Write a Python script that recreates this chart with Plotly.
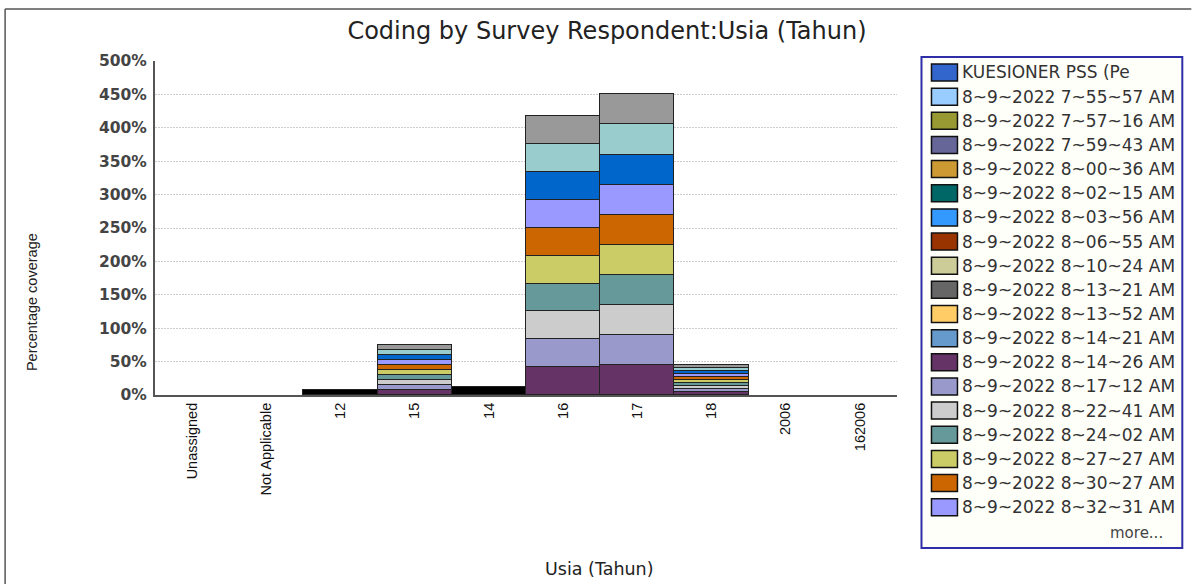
import plotly.graph_objects as go

# ---------------- data ----------------
categories = ["Unassigned", "Not Applicable", "12", "15", "14", "16", "17", "18", "2006", "162006"]

# legend entries shown in the reference (first 19, then "more...")
legend_names = [
    "KUESIONER PSS (Pe",
    "8~9~2022 7~55~57 AM", "8~9~2022 7~57~16 AM", "8~9~2022 7~59~43 AM",
    "8~9~2022 8~00~36 AM", "8~9~2022 8~02~15 AM", "8~9~2022 8~03~56 AM",
    "8~9~2022 8~06~55 AM", "8~9~2022 8~10~24 AM", "8~9~2022 8~13~21 AM",
    "8~9~2022 8~13~52 AM", "8~9~2022 8~14~21 AM", "8~9~2022 8~14~26 AM",
    "8~9~2022 8~17~12 AM", "8~9~2022 8~22~41 AM", "8~9~2022 8~24~02 AM",
    "8~9~2022 8~27~27 AM", "8~9~2022 8~30~27 AM", "8~9~2022 8~32~31 AM",
]
legend_colors = [
    "#3366CC", "#99CCFF", "#999933", "#666699", "#CC9933", "#006666",
    "#3399FF", "#993300", "#CCCC99", "#666666", "#FFCC66", "#6699CC",
    "#663366", "#9999CC", "#CCCCCC", "#669999", "#CCCC66", "#CC6600",
    "#9999FF",
]

# stacked series (bottom -> top), values in percent per category
s_08_14_26 = [None, None, None, 7.5, None, 41.7, 45, 4.5, None, None]
s_08_17_12 = [None, None, None, 7.5, None, 41.7, 45, 4.5, None, None]
s_08_22_41 = [None, None, None, 7.5, None, 41.7, 45, 4.5, None, None]
s_08_24_02 = [None, None, None, 7.5, None, 41.7, 45, 4.5, None, None]
s_08_27_27 = [None, None, None, 7.5, None, 41.7, 45, 4.5, None, None]
s_08_30_27 = [None, None, None, 7.5, None, 41.7, 45, 4.5, None, None]
s_08_32_31 = [None, None, None, 7.5, None, 41.7, 45, 4.5, None, None]
s_more_1 = [None, None, None, 7.5, None, 41.7, 45, 4.5, None, None]
s_more_2 = [None, None, None, 7.5, None, 41.7, 45, 4.5, None, None]
s_more_3 = [None, None, None, 7.5, None, 41.7, 45, 4.5, None, None]
s_more_4 = [None, None, 7.5, None, 11.5, None, None, None, None, None]

stack_series = [
    ("8~9~2022 8~14~26 AM", s_08_14_26, "#663366"),
    ("8~9~2022 8~17~12 AM", s_08_17_12, "#9999CC"),
    ("8~9~2022 8~22~41 AM", s_08_22_41, "#CCCCCC"),
    ("8~9~2022 8~24~02 AM", s_08_24_02, "#669999"),
    ("8~9~2022 8~27~27 AM", s_08_27_27, "#CCCC66"),
    ("8~9~2022 8~30~27 AM", s_08_30_27, "#CC6600"),
    ("8~9~2022 8~32~31 AM", s_08_32_31, "#9999FF"),
    ("more (1)", s_more_1, "#0066CC"),
    ("more (2)", s_more_2, "#99CCCC"),
    ("more (3)", s_more_3, "#999999"),
    ("more (4)", s_more_4, "#000000"),
]

y_ticks = list(range(0, 501, 50))

# ---------------- layout geometry ----------------
W, H = 1192, 584
L, R, T, B = 155, 897.5, 61, 395


def px(x):
    return (x - L) / (R - L)


def py(y):
    return (B - y) / (B - T)


fig = go.Figure()
for name, vals, col in stack_series:
    fig.add_trace(go.Bar(
        x=categories, y=vals, name=name,
        marker=dict(color=col, line=dict(color="#222222", width=1.5)),
        showlegend=False,
    ))

shapes = []
annotations = []

# outer frame lines (top and left)
shapes.append(dict(type="line", xref="paper", yref="paper", x0=px(5), x1=px(1192),
                   y0=py(9), y1=py(9), line=dict(color="#555555", width=1.5)))
shapes.append(dict(type="line", xref="paper", yref="paper", x0=px(5), x1=px(5),
                   y0=py(9), y1=py(584), line=dict(color="#555555", width=1.5)))

# custom legend box
shapes.append(dict(type="rect", xref="paper", yref="paper", x0=px(922), x1=px(1183),
                   y0=py(548), y1=py(57), line=dict(color="#2E2EA8", width=2),
                   fillcolor="#FFFFFA", layer="below"))
for i, (nm, col) in enumerate(zip(legend_names, legend_colors)):
    cy = 72.5 + i * 24.15
    shapes.append(dict(type="rect", xref="paper", yref="paper", x0=px(932), x1=px(958),
                       y0=py(cy + 8.5), y1=py(cy - 8.5), fillcolor=col,
                       line=dict(color="#111111", width=1.5)))
    annotations.append(dict(text=nm, xref="paper", yref="paper", x=px(961), y=py(cy),
                            xanchor="left", yanchor="middle", showarrow=False,
                            font=dict(family="DejaVu Sans", size=17, color="#333333")))
annotations.append(dict(text="more...", xref="paper", yref="paper", x=px(1166), y=py(533),
                        xanchor="right", yanchor="middle", showarrow=False,
                        font=dict(family="DejaVu Sans", size=15, color="#444444")))

# axis titles
annotations.append(dict(text="Percentage coverage", xref="paper", yref="paper",
                        x=px(32), y=py(302), textangle=-90, showarrow=False,
                        xanchor="center", yanchor="middle",
                        font=dict(family="Liberation Sans", size=14.5, color="#222222")))
annotations.append(dict(text="Usia (Tahun)", xref="paper", yref="paper",
                        x=px(600), y=py(569), showarrow=False,
                        xanchor="center", yanchor="middle",
                        font=dict(family="DejaVu Sans", size=17.5, color="#222222")))

fig.update_layout(
    width=W, height=H,
    margin=dict(l=L, r=W - R, t=T, b=H - B, pad=0),
    paper_bgcolor="white", plot_bgcolor="white",
    barmode="stack", bargap=0,
    showlegend=False,
    title=dict(text="Coding by Survey Respondent:Usia (Tahun)", x=607 / W, xref="container",
               xanchor="center", y=1 - 31 / H, yref="container", yanchor="middle",
               font=dict(family="DejaVu Sans", size=24, color="#222222")),
    xaxis=dict(type="category", categoryorder="array", categoryarray=categories,
               tickangle=-90, showline=True, linecolor="#555555", linewidth=2,
               ticks="", showgrid=False,
               tickfont=dict(family="Liberation Sans", size=14.5, color="#111111")),
    yaxis=dict(range=[0, 500], tickvals=y_ticks, ticktext=[f"{v}%" for v in y_ticks],
               showline=True, linecolor="#555555", linewidth=2, ticks="",
               ticklabelstandoff=3,
               showgrid=True, gridcolor="#CCCCCC", griddash="2px,1px", gridwidth=1,
               zeroline=False,
               tickfont=dict(family="DejaVu Sans", size=15.5, color="#444444", weight="bold")),
    shapes=shapes, annotations=annotations,
)

fig.write_html("out.html",
               config={"displayModeBar": False},
               post_script="document.body.style.margin='0';document.body.style.padding='0';")
